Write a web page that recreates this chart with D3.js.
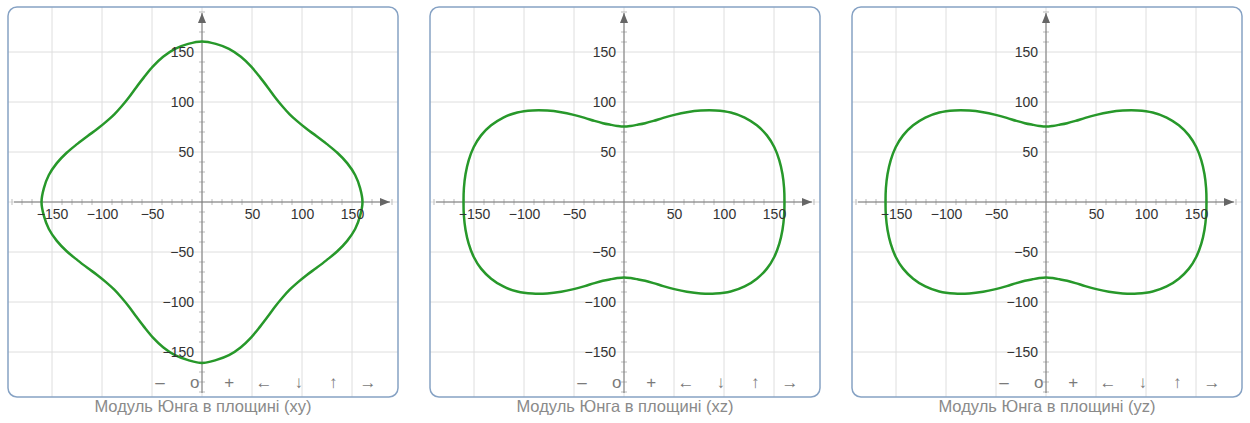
<!DOCTYPE html>
<html>
<head>
<meta charset="utf-8">
<script src="https://cdn.jsdelivr.net/npm/d3@7"></script>
<style>
  body { margin: 0; background: #fff; }
  text { font-family: "Liberation Sans", Arial, sans-serif; }
</style>
</head>
<body>
<script>
// Polar sample angles (deg), one every 5 degrees, and the modulus (radius) read at each angle
const angles = d3.range(0, 360, 5);

const rXY = [
    160.5, 158.7, 155.5, 150.3, 144, 137.5, 132, 127.6, 125, 124, 125, 127.6, 132, 137.5, 144, 150.3, 155.5, 158.7,
    160.5, 158.7, 155.5, 150.3, 144, 137.5, 132, 127.6, 125, 124, 125, 127.6, 132, 137.5, 144, 150.3, 155.5, 158.7,
    160.5, 158.7, 155.5, 150.3, 144, 137.5, 132, 127.6, 125, 124, 125, 127.6, 132, 137.5, 144, 150.3, 155.5, 158.7,
    161, 158.7, 155.5, 150.3, 144, 137.5, 132, 127.6, 125, 124, 125, 127.6, 132, 137.5, 144, 150.3, 155.5, 158.7
];

const rXZ = [
    160.5, 160.7, 160.9, 160.8, 160, 157.7, 153.4, 147.3, 139.3, 129.5, 119.4, 109.6, 100.6, 92.8, 86.3, 81.6, 78.5, 76.4,
    75.5, 76.4, 78.5, 81.6, 86.3, 92.8, 100.6, 109.6, 119.4, 129.5, 139.3, 147.3, 153.4, 157.7, 160, 160.8, 160.9, 160.7,
    160.5, 160.7, 160.9, 160.8, 160, 157.7, 153.4, 147.3, 139.3, 129.5, 119.4, 109.6, 100.6, 92.8, 86.3, 81.6, 78.5, 76.4,
    75.5, 76.4, 78.5, 81.6, 86.3, 92.8, 100.6, 109.6, 119.4, 129.5, 139.3, 147.3, 153.4, 157.7, 160, 160.8, 160.9, 160.7
];

const rYZ = [
    160.5, 160.7, 160.9, 160.8, 160, 157.7, 153.4, 147.3, 139.3, 129.5, 119.4, 109.6, 100.6, 92.8, 86.3, 81.6, 78.5, 76.4,
    75.5, 76.4, 78.5, 81.6, 86.3, 92.8, 100.6, 109.6, 119.4, 129.5, 139.3, 147.3, 153.4, 157.7, 160, 160.8, 160.9, 160.7,
    160.5, 160.7, 160.9, 160.8, 160, 157.7, 153.4, 147.3, 139.3, 129.5, 119.4, 109.6, 100.6, 92.8, 86.3, 81.6, 78.5, 76.4,
    75.5, 76.4, 78.5, 81.6, 86.3, 92.8, 100.6, 109.6, 119.4, 129.5, 139.3, 147.3, 153.4, 157.7, 160, 160.8, 160.9, 160.7
];

const series = [rXY, rXZ, rYZ];
const captions = ["Модуль Юнга в площині (xy)", "Модуль Юнга в площині (xz)", "Модуль Юнга в площині (yz)"];
const tickLabels = [-150, -100, -50, 50, 100, 150];
const gridValues = [-150, -100, -50, 0, 50, 100, 150];
const navLabels = ["–", "o", "+", "←", "↓", "↑", "→"];

// Layout
const W = 1250, H = 423;
const panelLeft = [8, 430, 852];
const panelTop = 7;
const size = 390;

const svg = d3.select("body").append("svg")
    .attr("width", W)
    .attr("height", H);

const defs = svg.append("defs");
defs.append("marker")
    .attr("id", "arrow")
    .attr("markerUnits", "userSpaceOnUse")
    .attr("markerWidth", 11)
    .attr("markerHeight", 9)
    .attr("refX", 10)
    .attr("refY", 4)
    .attr("orient", "auto")
  .append("path")
    .attr("d", "M0,0L10,4L0,8Z")
    .attr("fill", "#666");

defs.append("clipPath")
    .attr("id", "panel-clip")
  .append("rect")
    .attr("width", size)
    .attr("height", size)
    .attr("rx", 9);

// Scales shared by every panel (1 unit ~ 1 px)
const x = d3.scaleLinear().domain([-194, 196]).range([0, size]);
const y = d3.scaleLinear().domain([195, -195]).range([0, size]);
const minorTicks = d3.range(-190, 200, 10).filter(v => v % 50 !== 0);

const curve = d3.line()
    .x(d => x(d.r * Math.cos(d.a * Math.PI / 180)))
    .y(d => y(d.r * Math.sin(d.a * Math.PI / 180)))
    .curve(d3.curveCatmullRomClosed.alpha(0.5));

const nav = d3.scalePoint().domain(navLabels).range([152, 360]);

series.forEach((radii, i) => {
    const g = svg.append("g")
        .attr("transform", `translate(${panelLeft[i]},${panelTop})`);

    const inner = g.append("g").attr("clip-path", "url(#panel-clip)");

    // Grid
    inner.append("g").selectAll("line")
        .data(gridValues)
        .join("line")
            .attr("x1", d => x(d)).attr("x2", d => x(d))
            .attr("y1", 0).attr("y2", size)
            .attr("stroke", "#dedede");
    inner.append("g").selectAll("line")
        .data(gridValues)
        .join("line")
            .attr("y1", d => y(d)).attr("y2", d => y(d))
            .attr("x1", 0).attr("x2", size)
            .attr("stroke", "#dedede");

    // Minor ticks on the axes
    inner.append("g").selectAll("line")
        .data(minorTicks)
        .join("line")
            .attr("x1", d => x(d)).attr("x2", d => x(d))
            .attr("y1", y(0) - 3).attr("y2", y(0) + 3)
            .attr("stroke", "#bbb");
    inner.append("g").selectAll("line")
        .data(minorTicks)
        .join("line")
            .attr("y1", d => y(d)).attr("y2", d => y(d))
            .attr("x1", x(0) - 3).attr("x2", x(0) + 3)
            .attr("stroke", "#bbb");

    // Axes with arrows
    inner.append("line")
        .attr("x1", 6).attr("x2", size - 8)
        .attr("y1", y(0)).attr("y2", y(0))
        .attr("stroke", "#777")
        .attr("marker-end", "url(#arrow)");
    inner.append("line")
        .attr("x1", x(0)).attr("x2", x(0))
        .attr("y1", size - 4).attr("y2", 6)
        .attr("stroke", "#777")
        .attr("marker-end", "url(#arrow)");

    // Tick labels
    const xAxis = d3.axisBottom(x).tickValues(tickLabels).tickSize(0).tickPadding(7);
    const yAxis = d3.axisLeft(y).tickValues(tickLabels).tickSize(0).tickPadding(8);

    g.append("g")
        .attr("transform", `translate(0,${y(0)})`)
        .call(xAxis)
        .call(a => a.select(".domain").remove())
        .selectAll("text")
            .attr("font-size", "14px")
            .attr("font-family", "Liberation Sans, Arial, sans-serif")
            .attr("fill", "#333");

    g.append("g")
        .attr("transform", `translate(${x(0)},0)`)
        .call(yAxis)
        .call(a => a.select(".domain").remove())
        .selectAll("text")
            .attr("font-size", "14px")
            .attr("font-family", "Liberation Sans, Arial, sans-serif")
            .attr("fill", "#333");

    // Curve
    inner.append("path")
        .datum(angles.map((a, k) => ({ a: a, r: radii[k] })))
        .attr("d", curve)
        .attr("fill", "none")
        .attr("stroke", "#27982a")
        .attr("stroke-width", 2.5);

    // Navigation bar
    g.append("g")
        .selectAll("text")
        .data(navLabels)
        .join("text")
            .attr("transform", d => `translate(${nav(d)},377) rotate(0.01)`)
            .attr("text-anchor", "middle")
            .attr("dominant-baseline", "middle")
            .attr("font-family", "Liberation Sans, DejaVu Sans, sans-serif")
            .attr("font-size", "17px")
            .attr("fill", "#7a7a7a")
            .text(d => d);

    // Border
    g.append("rect")
        .attr("width", size)
        .attr("height", size)
        .attr("rx", 9)
        .attr("fill", "none")
        .attr("stroke", "#86a2c4")
        .attr("stroke-width", 1.5);

    // Caption
    svg.append("text")
        .attr("x", panelLeft[i] + size / 2)
        .attr("y", 412)
        .attr("text-anchor", "middle")
        .attr("font-size", "16.5px")
        .attr("fill", "#8a8a8a")
        .text(captions[i]);
});
</script>
</body>
</html>
